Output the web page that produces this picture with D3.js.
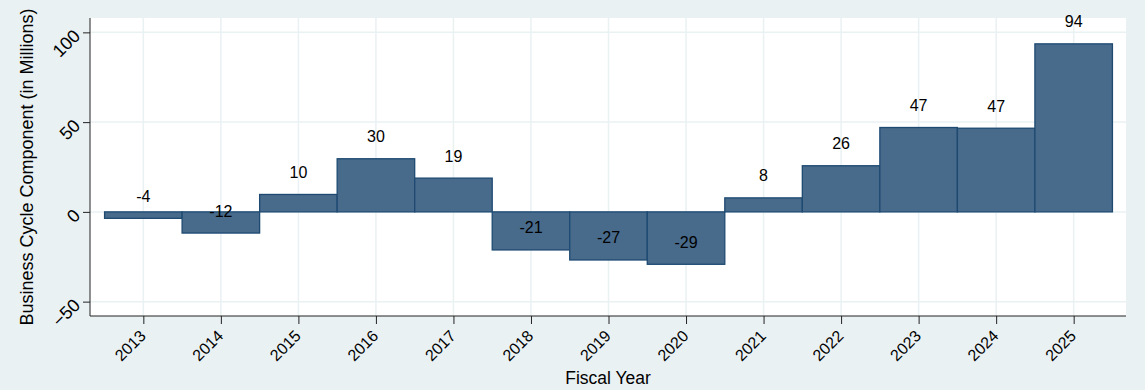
<!DOCTYPE html>
<html>
<head>
<meta charset="utf-8">
<script src="https://cdn.jsdelivr.net/npm/d3@7"></script>
<style>
  html, body { margin: 0; padding: 0; background: #eaf1f3; }
  svg { display: block; font-family: "Liberation Sans", Arial, sans-serif; }
</style>
</head>
<body>
<svg id="chart" width="1145" height="390"></svg>
<script>
const years = [2013, 2014, 2015, 2016, 2017, 2018, 2019, 2020, 2021, 2022, 2023, 2024, 2025];
const values = [-3.6, -11.8, 9.7, 29.6, 18.8, -21.2, -26.8, -29.2, 7.8, 25.7, 47.0, 46.6, 93.6];
const barLabels = ["-4", "-12", "10", "30", "19", "-21", "-27", "-29", "8", "26", "47", "47", "94"];
const yTicks = [-50, 0, 50, 100];
const xTitle = "Fiscal Year";
const yTitle = "Business Cycle Component (in Millions)";

(function () {
const svg = d3.select("#chart");
const W = 1145, H = 390;
const pL = 90, pR = 1126, pT = 18, pB = 316;

svg.append("rect").attr("width", W).attr("height", H).attr("fill", "#eaf1f3");
svg.append("rect").attr("x", pL).attr("y", pT).attr("width", pR - pL).attr("height", pB - pT).attr("fill", "#ffffff");

const x = d3.scaleLinear().domain([2012.312, 2025.675]).range([pL, pR]);
const y = d3.scaleLinear().domain([-58, 108]).range([pB, pT]);

// grid
const g = svg.append("g");
g.selectAll("line.hg").data(yTicks).enter().append("line")
  .attr("x1", pL).attr("x2", pR)
  .attr("y1", d => y(d)).attr("y2", d => y(d))
  .attr("stroke", "#eaf1f3").attr("stroke-width", 1.5);
g.selectAll("line.vg").data(years).enter().append("line")
  .attr("x1", d => x(d)).attr("x2", d => x(d))
  .attr("y1", pT).attr("y2", pB)
  .attr("stroke", "#eaf1f3").attr("stroke-width", 1.5);

// bars
svg.append("g").selectAll("rect").data(years).enter().append("rect")
  .attr("x", d => x(d - 0.5))
  .attr("width", d => x(d + 0.5) - x(d - 0.5))
  .attr("y", (d, i) => y(Math.max(0, values[i])))
  .attr("height", (d, i) => Math.abs(y(values[i]) - y(0)))
  .attr("fill", "#486a8b")
  .attr("stroke", "#1e4a72")
  .attr("stroke-width", 1.3);

// bar labels
svg.append("g").selectAll("text").data(years).enter().append("text")
  .attr("x", d => x(d))
  .attr("y", (d, i) => y(values[i]) - 22)
  .attr("text-anchor", "middle")
  .attr("dominant-baseline", "central")
  .attr("font-size", 16)
  .attr("fill", "#000")
  .text((d, i) => barLabels[i]);

// axes
const yAxis = d3.axisLeft(y).tickValues(yTicks).tickSize(7).tickFormat(d3.format("d"));
const ya = svg.append("g").attr("transform", `translate(${pL},0)`).call(yAxis);
ya.select(".domain").attr("d", `M0,${pT}V${pB}`).attr("stroke", "#222");
ya.selectAll(".tick line").attr("stroke", "#222");
ya.selectAll(".tick text")
  .attr("x", null).attr("dy", null)
  .attr("font-size", 18).attr("fill", "#000")
  .attr("text-anchor", "end")
  .attr("dominant-baseline", "central")
  .attr("transform", "translate(-13,0) rotate(-45)");

const xAxis = d3.axisBottom(x).tickValues(years).tickSize(8).tickFormat(d3.format("d"));
const xa = svg.append("g").attr("transform", `translate(0,${pB})`).call(xAxis);
xa.select(".domain").attr("d", `M${pL},0H${pR}`).attr("stroke", "#222");
xa.selectAll(".tick line").attr("stroke", "#222");
xa.selectAll(".tick text")
  .attr("y", null).attr("dy", null)
  .attr("font-size", 16).attr("fill", "#000")
  .attr("text-anchor", "end")
  .attr("dominant-baseline", "central")
  .attr("transform", "translate(-1,17) rotate(-45)");

// titles
svg.append("text")
  .attr("x", (pL + pR) / 2).attr("y", 378)
  .attr("text-anchor", "middle").attr("dominant-baseline", "central")
  .attr("font-size", 17.5).attr("fill", "#000")
  .text(xTitle);
svg.append("text")
  .attr("transform", `translate(27,${(pT + pB) / 2}) rotate(-90)`)
  .attr("text-anchor", "middle").attr("dominant-baseline", "central")
  .attr("font-size", 18).attr("fill", "#000")
  .text(yTitle);
})();
</script>
</body>
</html>
